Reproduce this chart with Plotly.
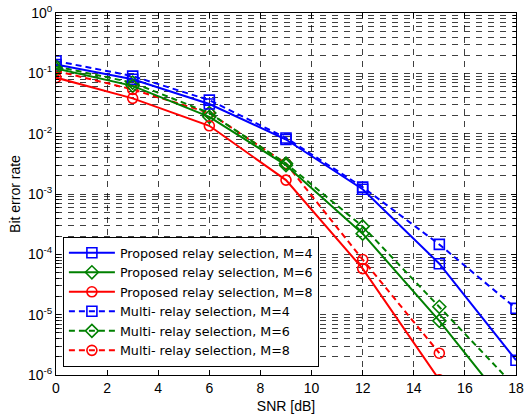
import plotly.graph_objects as go

snr = [0, 3, 6, 9, 12, 15, 18]

prop_m4 = [1.4e-1, 8.0e-2, 3.1e-2, 8.0e-3, 1.2e-3, 7.0e-5, 1.76e-6]
prop_m6 = [1.2e-1, 6.2e-2, 1.9e-2, 3.0e-3, 2.2e-4, 7.9e-6, 2.0e-7]
prop_m8 = [8.5e-2, 3.85e-2, 1.35e-2, 1.7e-3, 5.8e-5, 8.3e-7, None]
multi_m4 = [1.6e-1, 9.0e-2, 3.6e-2, 8.5e-3, 1.3e-3, 1.46e-4, 1.27e-5]
multi_m6 = [1.3e-1, 7.0e-2, 2.2e-2, 3.2e-3, 2.9e-4, 1.35e-5, 6.2e-7]
multi_m8 = [1.1e-1, 5.4e-2, 2.2e-2, 3.2e-3, 8.2e-5, 2.3e-6, None]

names = [
    "Proposed relay selection, M=4",
    "Proposed relay selection, M=6",
    "Proposed relay selection, M=8",
    "Multi- relay selection, M=4",
    "Multi- relay selection, M=6",
    "Multi- relay selection, M=8",
]
series = [prop_m4, prop_m6, prop_m8, multi_m4, multi_m6, multi_m8]
colors = ["#0000ff", "#008000", "#ff0000", "#0000ff", "#008000", "#ff0000"]
symbols = ["square-open", "diamond-open", "circle-open"] * 2
dashes = ["solid"] * 3 + ["6px,4px"] * 3

ytickvals = [1e-6, 1e-5, 1e-4, 1e-3, 1e-2, 1e-1, 1e0]
yticktext = ["10<sup>-6</sup>", "10<sup>-5</sup>", "10<sup>-4</sup>", "10<sup>-3</sup>",
             "10<sup>-2</sup>", "10<sup>-1</sup>", "10<sup>0</sup>"]
yminor = [m * 10.0 ** e for e in range(-6, 0) for m in range(2, 10)]

fig = go.Figure()
order = [5, 3, 4, 0, 1, 2]
for i in order:
    fig.add_trace(go.Scatter(
        x=snr, y=series[i], name=names[i], mode="lines+markers",
        line=dict(color=colors[i], width=2, dash=dashes[i]),
        marker=dict(symbol=symbols[i], size=10, color=colors[i],
                    line=dict(color=colors[i], width=1.6)),
        legendrank=i + 1,
    ))

gridc = "rgba(0,0,0,0.75)"
FONT = "Liberation Sans, Arial, Helvetica, sans-serif"
fig.update_layout(
    template="none",
    width=525, height=416,
    margin=dict(l=56, r=9, t=13, b=41, pad=0),
    paper_bgcolor="white", plot_bgcolor="white",
    font=dict(family=FONT, size=14, color="black"),
    showlegend=True,
    legend=dict(x=0.015, y=0.022, xanchor="left", yanchor="bottom",
                bgcolor="white", bordercolor="black", borderwidth=1,
                font=dict(family="DejaVu Sans, Liberation Sans, sans-serif", size=12.7),
                tracegroupgap=0, itemwidth=46),
)
fig.update_xaxes(
    range=[0, 18], tick0=0, dtick=2, ticks="inside", ticklen=5, tickcolor="black",
    showline=True, linecolor="black", linewidth=1, mirror="ticks",
    showgrid=True, gridcolor=gridc, gridwidth=1, griddash="6px,6px",
    zeroline=False, ticklabeloverflow="allow", automargin=False,
    title=dict(text="SNR [dB]", font=dict(size=14), standoff=6),
    tickfont=dict(size=14),
)
fig.update_yaxes(
    type="log", range=[-6, 0], tickmode="array", tickvals=ytickvals, ticktext=yticktext,
    ticks="inside", ticklen=5, tickcolor="black",
    showline=True, linecolor="black", linewidth=1, mirror="ticks",
    showgrid=True, gridcolor=gridc, gridwidth=1, griddash="6px,6px",
    minor=dict(tickmode="array", tickvals=yminor, ticks="inside", ticklen=3,
               tickcolor="black", showgrid=True, gridcolor=gridc, gridwidth=1,
               griddash="6px,6px"),
    zeroline=False, ticklabeloverflow="allow", automargin=False,
    title=dict(text="Bit error rate", font=dict(size=14), standoff=4),
    tickfont=dict(size=14),
)

fig.write_html(
    "out.html",
    config={"displayModeBar": False},
    post_script="document.body.style.margin='0';document.body.style.overflow='hidden';",
)
